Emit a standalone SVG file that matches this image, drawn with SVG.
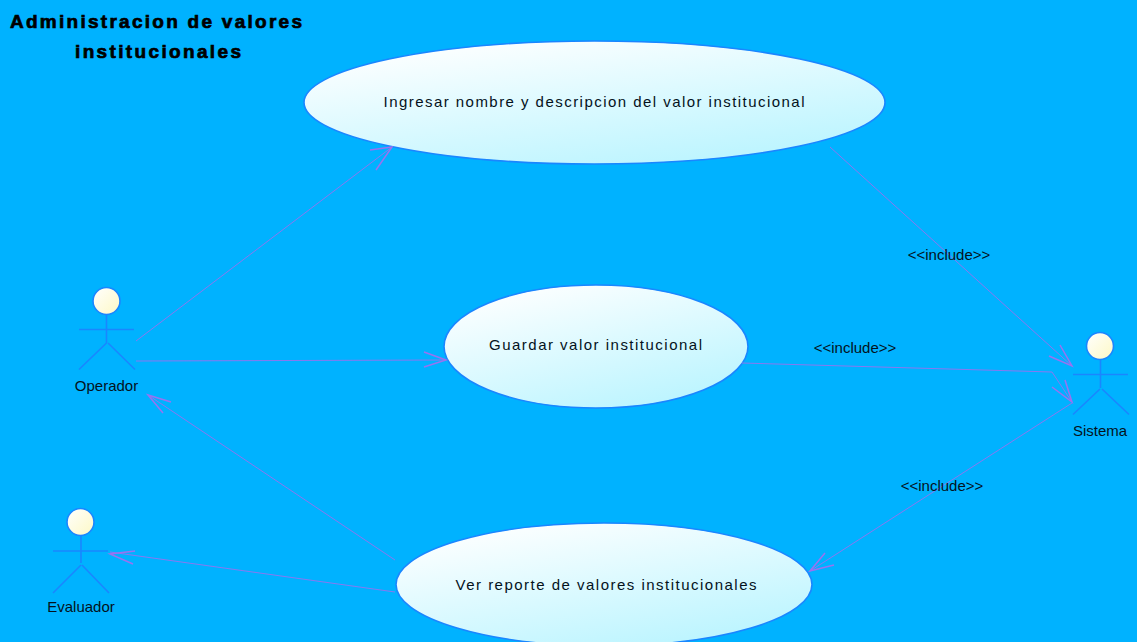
<svg xmlns="http://www.w3.org/2000/svg" width="1137" height="642" viewBox="0 0 1137 642">
<style>
text{font-family:"Liberation Sans",Arial,sans-serif;fill:#04121c}
.lbl{font-size:15px}
.title{font-size:19px;font-weight:bold;fill:#000;stroke:#000;stroke-width:.7px;text-anchor:middle}
.uc{fill:url(#ucFill);stroke:#1a86ff;stroke-width:1.6}
.head{fill:url(#headFill);stroke:#1a86ff;stroke-width:1.6}
.limb{fill:none;stroke:#1a86ff;stroke-width:1.6}
.c{fill:none;stroke:#8a78f0;stroke-width:1}
.a{fill:none;stroke:#9a72f0;stroke-width:1.5}
</style>
<defs>
<linearGradient id="ucFill" x1="0.2" y1="0" x2="0.8" y2="1"><stop offset="0" stop-color="#ffffff"/><stop offset="1" stop-color="#b8f4ff"/></linearGradient>
<linearGradient id="headFill" x1="0" y1="0" x2="1" y2="1"><stop offset="0" stop-color="#ffffff"/><stop offset="1" stop-color="#fdf8c4"/></linearGradient>
</defs>
<rect width="1137" height="642" fill="#00b2ff"/>
<g id="title">
<text class="title" x="156" y="28" textLength="292" lengthAdjust="spacing">Administracion de valores</text>
<text class="title" x="158" y="57.500" textLength="166" lengthAdjust="spacing">institucionales</text>
</g>
<g id="uc-ingresar">
<ellipse class="uc" cx="594.500" cy="102.500" rx="290.500" ry="61.500"/>
<text class="lbl" x="594" y="107" text-anchor="middle" textLength="421">Ingresar nombre y descripcion del valor institucional</text>
</g>
<g id="uc-guardar">
<ellipse class="uc" cx="596" cy="346.500" rx="152" ry="61.500"/>
<text class="lbl" x="595.500" y="350" text-anchor="middle" textLength="213">Guardar valor institucional</text>
</g>
<g id="uc-ver">
<ellipse class="uc" cx="604" cy="584.500" rx="208" ry="61.500"/>
<text class="lbl" x="606" y="590" text-anchor="middle" textLength="301">Ver reporte de valores institucionales</text>
</g>
<g id="actor-operador">
<circle class="head" cx="106.500" cy="301" r="13.500"/>
<path class="limb" d="M106.500 315V343M79 329.500H134M106.500 343L79 369.500M108 343L135 369.500"/>
<text class="lbl" x="106.500" y="391" text-anchor="middle">Operador</text>
</g>
<g id="actor-sistema">
<circle class="head" cx="1100" cy="346" r="13.500"/>
<path class="limb" d="M1100.500 360V388M1073 374.500H1128M1100 389L1073 414.500M1102 389L1129 414.500"/>
<text class="lbl" x="1100" y="436" text-anchor="middle">Sistema</text>
</g>
<g id="actor-evaluador">
<circle class="head" cx="80.500" cy="522" r="13.500"/>
<path class="limb" d="M81 536V563M53 551H108M81 565L53 593M82 565L109 593"/>
<text class="lbl" x="81" y="612" text-anchor="middle">Evaluador</text>
</g>
<g id="connectors">
<path class="c" d="M136 341L392 147"/>
<path class="a" d="M370 150L392 147L376 170"/>
<path class="c" d="M136 361L446 360"/>
<path class="a" d="M424 352L446 360L424 367"/>
<path class="c" d="M742 363L1052 372L1072 402"/>
<path class="a" d="M1052 387L1072 402L1065 380"/>
<path class="c" d="M830 147L1072 366"/>
<path class="a" d="M1060 345L1072 366L1049 356"/>
<path class="c" d="M395 560L148 395"/>
<path class="a" d="M171 402L148 395L163 413"/>
<path class="c" d="M395 592L110 552"/>
<path class="a" d="M135 551L110 554L133 564"/>
<path class="c" d="M1072 403L810 571"/>
<path class="a" d="M825 553L810 571L834 565"/>
<text class="lbl" x="949" y="260" text-anchor="middle">&lt;&lt;include&gt;&gt;</text>
<text class="lbl" x="855" y="353" text-anchor="middle">&lt;&lt;include&gt;&gt;</text>
<text class="lbl" x="942" y="491" text-anchor="middle">&lt;&lt;include&gt;&gt;</text>
</g>
</svg>
